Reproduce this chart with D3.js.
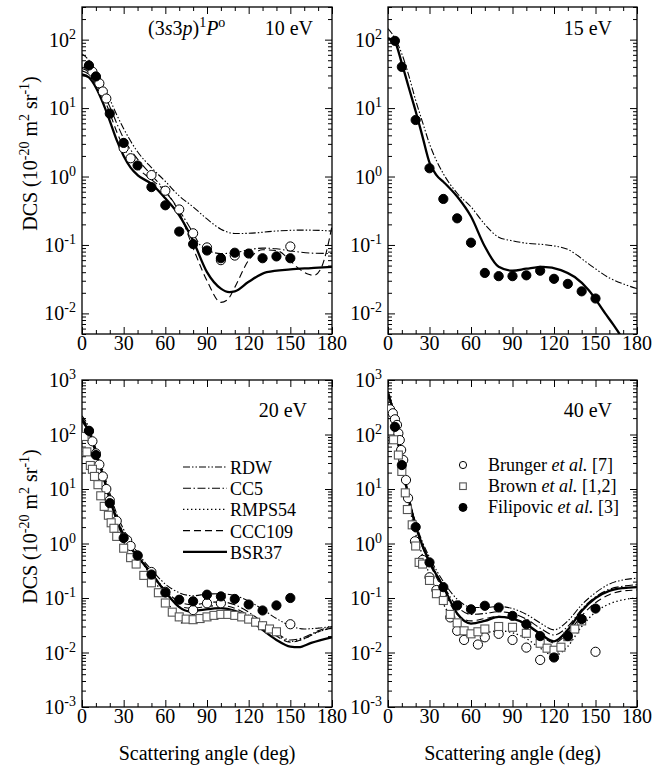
<!DOCTYPE html>
<html>
<head>
<meta charset="utf-8">
<script src="https://cdn.jsdelivr.net/npm/d3@7"></script>
<style>
	body { margin: 0; background: #fff; }
	svg text { font-family: "Liberation Serif", "Times New Roman", serif; fill: #000; }
</style>
</head>
<body>
<svg id="chart" width="667" height="767" font-family="Liberation Serif, serif"></svg>
<script>
'use strict';

// ---- data: [angle (deg), DCS (1e-20 m^2 sr^-1)] ----

// 10 eV
var rdw10 = [[0,62],[5,50],[10,34],[15,22],[20,13.5],[25,8],[30,5],[40,2.3],[50,1.35],[60,0.85],[70,0.52],[80,0.36],[90,0.24],[100,0.17],[110,0.147],[120,0.148],[140,0.16],[160,0.165],[180,0.16]];
var cc510 = [[0,38],[5,34],[10,26],[15,17],[20,10.5],[25,6],[30,3.6],[40,1.8],[50,1.05],[60,0.62],[70,0.32],[80,0.15],[85,0.1],[90,0.085],[100,0.075],[110,0.077],[120,0.085],[130,0.09],[140,0.088],[150,0.082],[165,0.076],[180,0.075]];
var ccc10 = [[0,35],[5,31],[10,23],[15,15],[20,8.5],[25,4.5],[30,2.7],[40,1.35],[50,0.9],[60,0.6],[70,0.3],[80,0.09],[90,0.03],[100,0.0145],[105,0.016],[110,0.024],[120,0.06],[130,0.085],[140,0.083],[148,0.065],[155,0.047],[162,0.038],[167,0.036],[172,0.045],[176,0.08],[180,0.19]];
var bsr10 = [[0,31],[5,28],[10,20],[15,12],[20,6.5],[25,3.4],[30,2.0],[35,1.35],[40,1.05],[50,0.78],[60,0.48],[70,0.27],[80,0.115],[90,0.04],[100,0.023],[106,0.0205],[110,0.021],[120,0.029],[133,0.04],[150,0.044],[165,0.046],[180,0.048]];
var brunger10 = [[5,40],[7.5,34],[10,28],[12.5,23],[15,17.5],[17.5,13.8],[30,2.6],[35,1.85],[50,1.05],[60,0.62],[70,0.33],[80,0.148],[90,0.092],[100,0.06],[110,0.07],[150,0.095]];
var filip10 = [[5,42],[10,29],[20,8.3],[30,3.1],[40,1.45],[50,0.7],[60,0.38],[70,0.157],[80,0.103],[90,0.083],[100,0.064],[110,0.077],[120,0.075],[130,0.064],[140,0.068],[150,0.064]];

// 15 eV
var rdw15 = [[0,145],[5,105],[10,62],[15,30],[20,13],[25,6.2],[30,3.0],[40,1.1],[50,0.57],[60,0.36],[70,0.2],[80,0.13],[90,0.115],[100,0.106],[115,0.1],[130,0.086],[145,0.053],[160,0.033],[170,0.027],[180,0.023]];
var bsr15 = [[0,105],[5,92],[10,45],[15,20],[20,9],[25,3.8],[30,1.6],[35,1.05],[40,0.84],[50,0.51],[60,0.26],[70,0.095],[80,0.048],[90,0.042],[100,0.045],[112,0.048],[125,0.043],[135,0.034],[145,0.022],[157,0.01],[163,0.0068],[168,0.0048],[175,0.003],[180,0.002]];
var filip15 = [[5,96],[10,40],[20,6.7],[30,1.32],[40,0.47],[50,0.245],[60,0.108],[70,0.039],[80,0.035],[90,0.035],[100,0.036],[110,0.042],[120,0.032],[130,0.027],[140,0.021],[150,0.0165]];

// 20 eV
var rdw20 = [[0,220],[5,135],[10,55],[15,22],[20,8.5],[25,3.5],[30,1.8],[40,0.68],[50,0.33],[60,0.18],[70,0.125],[80,0.11],[90,0.118],[100,0.12],[110,0.11],[120,0.088],[130,0.062],[140,0.042],[150,0.031],[160,0.027],[170,0.028],[180,0.03]];
var cc520 = [[0,200],[5,125],[10,50],[15,20],[20,7.5],[25,3.1],[30,1.5],[40,0.62],[50,0.29],[60,0.14],[70,0.085],[80,0.075],[90,0.082],[100,0.085],[110,0.075],[120,0.055],[130,0.036],[140,0.023],[150,0.017],[160,0.019],[170,0.025],[180,0.03]];
var rmps20 = [[0,190],[5,115],[10,46],[15,18],[20,7],[25,3],[30,1.45],[40,0.6],[50,0.25],[60,0.1],[65,0.06],[72,0.035],[80,0.04],[90,0.05],[100,0.056],[110,0.052],[120,0.042],[130,0.03],[140,0.021],[150,0.016],[160,0.018],[170,0.024],[180,0.028]];
var ccc20 = [[0,195],[5,118],[10,47],[15,18.5],[20,7],[25,2.9],[30,1.4],[40,0.6],[50,0.29],[60,0.13],[70,0.07],[80,0.065],[90,0.07],[100,0.073],[110,0.065],[120,0.048],[130,0.031],[140,0.02],[150,0.0155],[160,0.018],[170,0.024],[180,0.028]];
var bsr20 = [[0,180],[5,112],[10,46],[15,18],[20,6.5],[25,2.7],[30,1.3],[40,0.58],[50,0.28],[60,0.13],[70,0.068],[77,0.057],[85,0.06],[100,0.065],[110,0.058],[120,0.042],[130,0.026],[140,0.017],[150,0.0128],[156,0.0125],[165,0.015],[180,0.019]];
var brunger20 = [[5,115],[7.5,75],[10,45],[12.5,28],[15,17],[17.5,10],[20,6.2],[25,2.6],[30,1.3],[32.5,1.15],[35,0.9],[40,0.6],[50,0.3],[60,0.13],[80,0.06],[90,0.08],[100,0.08],[150,0.033]];
var brown20 = [[1.5,92],[3.5,48],[6,27],[7.5,23],[9,17],[11.5,12],[13.5,7.5],[16,4.8],[19,3.3],[21,2.4],[23,1.9],[25,1.35],[30,0.82],[35,0.55],[39,0.42],[44.5,0.26],[50,0.19],[55,0.125],[60,0.081],[65,0.055],[70,0.045],[75,0.041],[80,0.04],[85,0.042],[90,0.045],[95,0.048],[100,0.05],[105,0.05],[110,0.048],[115,0.045],[120,0.041],[125,0.036],[130,0.031],[135,0.027],[140,0.024]];
var filip20 = [[5,117],[10,42],[20,5.5],[30,1.26],[40,0.6],[50,0.27],[60,0.126],[70,0.093],[80,0.087],[90,0.115],[100,0.107],[110,0.096],[120,0.076],[130,0.059],[140,0.073],[150,0.1]];

// 40 eV
var rdw40 = [[0,620],[2.5,400],[5,175],[7.5,75],[10,33],[15,7.5],[20,2.4],[25,1.05],[30,0.56],[40,0.2],[50,0.095],[60,0.068],[70,0.067],[80,0.07],[90,0.064],[100,0.05],[110,0.035],[120,0.026],[130,0.038],[140,0.075],[150,0.125],[160,0.18],[170,0.215],[180,0.23]];
var cc540 = [[0,560],[2.5,370],[5,165],[7.5,70],[10,31],[15,7],[20,2.2],[25,0.95],[30,0.5],[40,0.17],[50,0.07],[60,0.05],[70,0.052],[80,0.056],[90,0.052],[100,0.041],[110,0.028],[120,0.021],[130,0.03],[140,0.062],[150,0.105],[160,0.145],[170,0.165],[180,0.175]];
var rmps40 = [[0,470],[2.5,320],[5,140],[7.5,58],[10,25],[15,5.5],[20,1.5],[25,0.6],[30,0.27],[40,0.078],[50,0.03],[60,0.021],[70,0.023],[80,0.025],[90,0.023],[100,0.018],[110,0.012],[120,0.0088],[130,0.013],[140,0.03],[150,0.055],[160,0.078],[170,0.093],[180,0.1]];
var ccc40 = [[0,520],[2.5,350],[5,155],[7.5,66],[10,29],[15,6.5],[20,2.0],[25,0.85],[30,0.43],[40,0.14],[50,0.05],[60,0.038],[70,0.042],[80,0.046],[90,0.042],[100,0.032],[110,0.021],[120,0.015],[130,0.023],[140,0.047],[150,0.082],[160,0.115],[170,0.135],[180,0.14]];
var bsr40 = [[0,530],[2.5,360],[5,160],[7.5,68],[10,30],[15,6.8],[20,2.1],[25,0.9],[30,0.46],[40,0.16],[50,0.052],[60,0.034],[70,0.038],[80,0.045],[90,0.042],[100,0.033],[110,0.022],[120,0.016],[130,0.026],[140,0.058],[150,0.1],[160,0.135],[170,0.152],[180,0.158]];
var brunger40 = [[1.5,290],[3.5,245],[5,190],[6.5,150],[7.5,105],[8.5,79],[9.5,52],[11,34],[13,14.6],[14.5,6.8],[19.5,1.1],[25,0.5],[30,0.24],[35,0.14],[45,0.044],[50,0.025],[55,0.017],[65,0.014],[70,0.019],[80,0.022],[90,0.017],[100,0.0123],[110,0.0073],[150,0.0103]];
var brown40 = [[4,80],[7.5,42],[10,21],[12.5,8.5],[14,4.2],[17.5,2.2],[20,0.9],[22.5,0.45],[25,0.42],[30,0.21],[35,0.12],[40,0.09],[45,0.05],[50,0.035],[55,0.025],[60,0.022],[65,0.024],[70,0.027],[80,0.03],[90,0.029],[100,0.0225],[110,0.0148],[115,0.012],[120,0.011],[125,0.0125],[130,0.0195],[135,0.027],[140,0.038]];
var filip40 = [[5,138],[10,27.5],[20,2.0],[30,0.45],[40,0.158],[50,0.073],[60,0.062],[70,0.072],[80,0.067],[90,0.047],[100,0.033],[110,0.02],[120,0.0081],[130,0.02],[140,0.041],[150,0.064]];

// ticks
var xMajor = [0, 30, 60, 90, 120, 150, 180];
var xMinor = [10, 20, 40, 50, 70, 80, 100, 110, 130, 140, 160, 170];
var yExpTop = [-2, -1, 0, 1, 2];
var yExpBottom = [-3, -2, -1, 0, 1, 2, 3];

var theoryNames = ['RDW', 'CC5', 'RMPS54', 'CCC109', 'BSR37'];
var exptNames = ['Brunger', 'Brown', 'Filipovic'];

// ---- styles ----
var lineStyles = {
	RDW: { dash: '7,2,1.5,2,1.5,2', width: 1.1 },
	CC5: { dash: '8,2.5,1.5,2.5', width: 1.1 },
	RMPS54: { dash: '1.4,2.6', width: 1.3 },
	CCC109: { dash: '7,4', width: 1.1 },
	BSR37: { dash: null, width: 2.3 }
};

var panels = [
	{ left: 82, top: 7, w: 250, h: 327, ydom: [0.005, 300], yExp: yExpTop, energy: '10 eV', labelX: 231, xText: false,
		lines: { RDW: rdw10, CC5: cc510, CCC109: ccc10, BSR37: bsr10 },
		points: { Brunger: brunger10, Filipovic: filip10 } },
	{ left: 388, top: 7, w: 249, h: 327, ydom: [0.005, 300], yExp: yExpTop, energy: '15 eV', labelX: 224, xText: false,
		lines: { RDW: rdw15, BSR37: bsr15 },
		points: { Filipovic: filip15 } },
	{ left: 82, top: 380, w: 250, h: 327, ydom: [0.001, 1000], yExp: yExpBottom, energy: '20 eV', labelX: 225, xText: true,
		lines: { RDW: rdw20, CC5: cc520, RMPS54: rmps20, CCC109: ccc20, BSR37: bsr20 },
		points: { Brunger: brunger20, Brown: brown20, Filipovic: filip20 } },
	{ left: 388, top: 380, w: 249, h: 327, ydom: [0.001, 1000], yExp: yExpBottom, energy: '40 eV', labelX: 224, xText: true,
		lines: { RDW: rdw40, CC5: cc540, RMPS54: rmps40, CCC109: ccc40, BSR37: bsr40 },
		points: { Brunger: brunger40, Brown: brown40, Filipovic: filip40 } }
];

var svg = d3.select('#chart');

function drawSymbol(g, kind, cx, cy, s) {
	if (kind === 'Brown') {
		g.append('rect')
			.attr('x', cx - s).attr('y', cy - s)
			.attr('width', 2 * s).attr('height', 2 * s)
			.style('fill', '#fff').style('stroke', '#555').style('stroke-width', 1.1);
	} else {
		g.append('circle')
			.attr('cx', cx).attr('cy', cy).attr('r', s)
			.style('fill', kind === 'Filipovic' ? '#000' : '#fff')
			.style('stroke', '#000').style('stroke-width', 1);
	}
}

function minorValues(dom) {
	var out = [];
	for (var e = -4; e <= 3; e++) {
		for (var m = 2; m <= 9; m++) {
			var v = m * Math.pow(10, e);
			if (v >= dom[0] && v <= dom[1]) out.push(v);
		}
	}
	return out;
}

panels.forEach(function(p, i) {
	var g = svg.append('g').attr('transform', 'translate(' + p.left + ',' + p.top + ')');
	var x = d3.scaleLinear().domain([0, 180]).range([0, p.w]);
	var y = d3.scaleLog().domain(p.ydom).range([p.h, 0]);
	var yMajor = p.yExp.map(function(e) { return Math.pow(10, e); });
	var yMinor = minorValues(p.ydom);

	// ticks on all four sides, pointing inward
	function ax(gen, vals, size, tr) {
		var a = g.append('g').attr('transform', tr || null)
			.call(gen.tickValues(vals).tickSize(-size).tickFormat(''));
		a.select('.domain').remove();
		a.selectAll('line').style('stroke', '#000').style('stroke-width', 1);
		return a;
	}
	ax(d3.axisBottom(x), xMajor, 7, 'translate(0,' + p.h + ')');
	ax(d3.axisBottom(x), xMinor, 4, 'translate(0,' + p.h + ')');
	ax(d3.axisTop(x), xMajor, 7);
	ax(d3.axisTop(x), xMinor, 4);
	ax(d3.axisLeft(y), yMajor, 7);
	ax(d3.axisLeft(y), yMinor, 4);
	ax(d3.axisRight(y), yMajor, 7, 'translate(' + p.w + ',0)');
	ax(d3.axisRight(y), yMinor, 4, 'translate(' + p.w + ',0)');

	// x tick labels
	g.selectAll('text.xt').data(xMajor).enter().append('text')
		.attr('class', 'xt')
		.attr('x', function(d) { return x(d); })
		.attr('y', p.h + 16)
		.attr('text-anchor', 'middle')
		.style('font-size', '20px')
		.text(function(d) { return d; });

	// y tick labels 10^n
	p.yExp.forEach(function(e) {
		var t = g.append('text')
			.attr('x', -6)
			.attr('y', y(Math.pow(10, e)) + 7)
			.attr('text-anchor', 'end')
			.style('font-size', '20px');
		t.append('tspan').text('10');
		t.append('tspan').attr('dy', -8).style('font-size', '14px').text(e < 0 ? '-' + (-e) : String(e));
	});

	// frame
	g.append('rect')
		.attr('width', p.w).attr('height', p.h)
		.style('fill', 'none').style('stroke', '#000').style('stroke-width', 1.3);

	var clipId = 'clip' + i;
	g.append('clipPath').attr('id', clipId)
		.append('rect').attr('width', p.w).attr('height', p.h);

	var plot = g.append('g').attr('clip-path', 'url(#' + clipId + ')');

	var line = d3.line()
		.x(function(d) { return x(d[0]); })
		.y(function(d) { return y(d[1]); })
		.curve(d3.curveMonotoneX);

	theoryNames.forEach(function(name) {
		if (!p.lines[name]) return;
		var st = lineStyles[name];
		plot.append('path')
			.attr('d', line(p.lines[name]))
			.style('fill', 'none')
			.style('stroke', '#000')
			.style('stroke-width', st.width)
			.style('stroke-dasharray', st.dash);
	});

	exptNames.forEach(function(name) {
		if (!p.points[name]) return;
		p.points[name].forEach(function(d) {
			drawSymbol(plot, name, x(d[0]), y(d[1]), name === 'Brown' ? 4 : 4.6);
		});
	});

	// energy label
	g.append('text')
		.attr('x', p.labelX)
		.attr('y', i < 2 ? 28 : 37)
		.attr('text-anchor', 'end')
		.style('font-size', '20px')
		.text(p.energy);

	// y axis title on left panels
	if (i % 2 === 0) {
		var yt = svg.append('text')
			.attr('transform', 'translate(37,' + (p.top + p.h / 2 - 17) + ') rotate(-90)')
			.attr('text-anchor', 'middle')
			.style('font-size', '20px');
		yt.append('tspan').text('DCS (10');
		yt.append('tspan').attr('dy', -8).style('font-size', '14px').text('-20');
		yt.append('tspan').attr('dy', 8).text(' m');
		yt.append('tspan').attr('dy', -8).style('font-size', '14px').text('2');
		yt.append('tspan').attr('dy', 8).text(' sr');
		yt.append('tspan').attr('dy', -8).style('font-size', '14px').text('-1');
		yt.append('tspan').attr('dy', 8).text(')');
	}

	if (p.xText) {
		svg.append('text')
			.attr('x', p.left + p.w / 2)
			.attr('y', 760)
			.attr('text-anchor', 'middle')
			.style('font-size', '20px')
			.text('Scattering angle (deg)');
	}
});

// state label in the 10 eV panel
var st = svg.append('text').attr('x', 148).attr('y', 35).style('font-size', '20px');
st.append('tspan').text('(3');
st.append('tspan').style('font-style', 'italic').text('s');
st.append('tspan').text('3');
st.append('tspan').style('font-style', 'italic').text('p');
st.append('tspan').text(')');
st.append('tspan').attr('dy', -8).style('font-size', '14px').text('1');
st.append('tspan').attr('dy', 8).style('font-style', 'italic').text('P');
st.append('tspan').attr('dy', -8).style('font-size', '14px').text('o');

// theory legend (20 eV panel)
var legA = svg.append('g');
theoryNames.forEach(function(name, k) {
	var ly = 467 + k * 21.2;
	var s = lineStyles[name];
	legA.append('line')
		.attr('x1', 183).attr('x2', 227).attr('y1', ly).attr('y2', ly)
		.style('stroke', '#000').style('stroke-width', s.width)
		.style('stroke-dasharray', s.dash);
	legA.append('text')
		.attr('x', 230).attr('y', ly + 7)
		.style('font-size', '18px')
		.text(name);
});

// experiment legend (40 eV panel)
var exptLabels = [['Brunger ', 'et al.', ' [7]'], ['Brown ', 'et al.', ' [1,2]'], ['Filipovic ', 'et al.', ' [3]']];
var legB = svg.append('g');
exptNames.forEach(function(name, k) {
	var ly = 465 + k * 21.2;
	drawSymbol(legB, name, 463, ly, name === 'Brown' ? 3.3 : (name === 'Filipovic' ? 4 : 3.6));
	var t = legB.append('text').attr('x', 488).attr('y', ly + 6).style('font-size', '18px');
	t.append('tspan').text(exptLabels[k][0]);
	t.append('tspan').style('font-style', 'italic').text(exptLabels[k][1]);
	t.append('tspan').text(exptLabels[k][2]);
});
</script>
</body>
</html>
